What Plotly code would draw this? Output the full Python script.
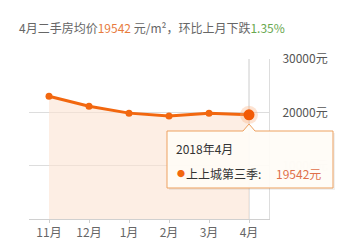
import plotly.graph_objects as go

months = ["11月", "12月", "1月", "2月", "3月", "4月"]
prices = [23000, 21150, 19850, 19300, 19810, 19542]
ytick_vals = [10000, 20000, 30000]
ytick_text = ["10000元", "20000元", "30000元"]
series_name = "上上城第三季"
tip_date = "2018年4月"
change_pct = "1.35%"

LINE = "#f2670f"
W, H = 344, 252
L, R, T, B = 29, 75, 59, 33
pw, ph = W - L - R, H - T - B

def px(x):
    return (x - L) / pw

def py(y):
    return (H - B - y) / ph

fig = go.Figure()
fig.add_trace(go.Scatter(
    x=months, y=prices, mode="lines+markers",
    line=dict(color=LINE, width=3),
    marker=dict(size=7, color=LINE),
    fill="tozeroy", fillcolor="rgba(252,226,210,0.6)",
    hoverinfo="skip", showlegend=False,
))
fig.add_trace(go.Scatter(
    x=months[-1:], y=prices[-1:], mode="markers",
    marker=dict(size=18, color="rgba(250,175,125,0.35)"),
    hoverinfo="skip", showlegend=False,
))
fig.add_trace(go.Scatter(
    x=months[-1:], y=prices[-1:], mode="markers",
    marker=dict(size=11, color="#f25a05"),
    hoverinfo="skip", showlegend=False,
))

shapes = [
    dict(type="line", xref="x", yref="paper", x0=months[-1], x1=months[-1],
         y0=0, y1=1, line=dict(color="#cccccc", width=1), layer="below"),
]
# tooltip box with notch
bl, br, bt, bb = 167, 333, 131, 188
nx, ntip = 249, 124
def P(x, y):
    return f"{px(x):.4f},{py(y):.4f}"
shadow = f"M{P(bl+2,bt+2)} L{P(br+2,bt+2)} L{P(br+2,bb+2)} L{P(bl+2,bb+2)} Z"
shapes.append(dict(type="path", xref="paper", yref="paper", path=shadow,
                   fillcolor="rgba(0,0,0,0.06)", line=dict(width=0)))
path = (f"M{P(bl,bt)} L{P(nx-6,bt)} L{P(nx,ntip)} L{P(nx+6,bt)} "
        f"L{P(br,bt)} L{P(br,bb)} L{P(bl,bb)} Z")
shapes.append(dict(type="path", xref="paper", yref="paper", path=path,
                   fillcolor="rgba(255,252,247,0.95)",
                   line=dict(color="#eda160", width=1)))

# the 10000 label sits behind the tooltip in the reference, so it is drawn faint
tick_text_shown = [
    f"<span style='color:#e8e4e0'>{t}</span>" if v == 10000 else t
    for v, t in zip(ytick_vals, ytick_text)
]

font = "Noto Sans CJK SC, Noto Sans, sans-serif"
annotations = [
    dict(xref="paper", yref="paper", x=px(17), y=py(27), xanchor="left", yanchor="middle",
         showarrow=False, font=dict(size=12, color="#666666", family=font),
         text=(f"{months[-1]}二手房均价<span style='color:#e87b3e'>{prices[-1]}</span> 元/m²，"
               f"环比上月下跌<span style='color:#6aa84f'>{change_pct}</span>")),
    dict(xref="paper", yref="paper", x=px(174), y=py(148), xanchor="left", yanchor="middle",
         showarrow=False, font=dict(size=12, color="#333333", family=font), text=tip_date),
    dict(xref="paper", yref="paper", x=px(175), y=py(173), xanchor="left", yanchor="middle",
         showarrow=False, font=dict(size=8, color=LINE, family=font), text="●"),
    dict(xref="paper", yref="paper", x=px(184), y=py(173), xanchor="left", yanchor="middle",
         showarrow=False, font=dict(size=12, color="#333333", family=font), text=series_name + ":"),
    dict(xref="paper", yref="paper", x=px(323), y=py(173), xanchor="right", yanchor="middle",
         showarrow=False, font=dict(size=12, color="#e0704a", family=font), text=f"{prices[-1]}元"),
]

fig.update_layout(
    width=W, height=H, margin=dict(l=L, r=R, t=T, b=B),
    paper_bgcolor="white", plot_bgcolor="white",
    shapes=shapes, annotations=annotations,
    font=dict(family=font, size=12, color="#666666"),
    xaxis=dict(type="category", range=[-0.5, len(months) - 0.5],
               showgrid=False, showline=True, linecolor="#d0d0d0", linewidth=1,
               ticks="outside", ticklen=3, tickcolor="#d0d0d0",
               tickfont=dict(size=12, color="#666666"), fixedrange=True),
    yaxis=dict(side="right", range=[0, 30000], tickvals=ytick_vals, ticktext=tick_text_shown,
               showgrid=True, gridcolor="#dddddd", gridwidth=1,
               showline=True, linecolor="#dddddd", zeroline=False,
               ticks="", ticklabelstandoff=10,
               tickfont=dict(size=12, color="#555555"), fixedrange=True),
)

fig.write_html("out.html", config={"displayModeBar": False})
